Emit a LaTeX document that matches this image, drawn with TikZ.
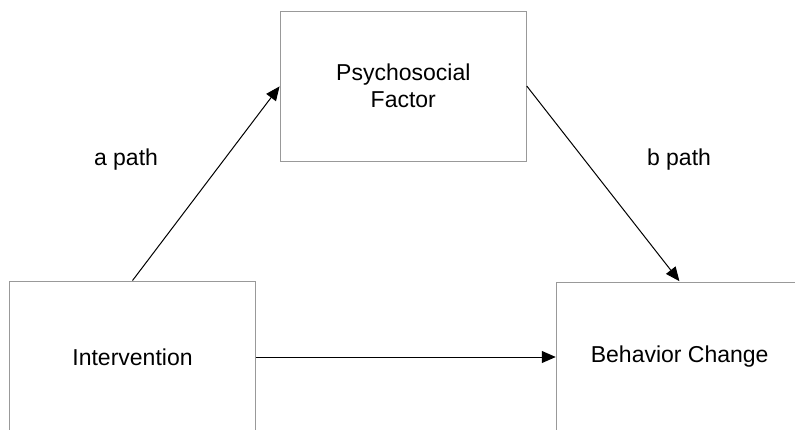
\documentclass[tikz,border=0pt]{standalone}
\usepackage{fontspec}
\setmainfont{Liberation Sans}
\usetikzlibrary{arrows.meta}
\begin{document}
\begin{tikzpicture}[x=1pt,y=-1pt,
  box/.style={draw=black!40,line width=0.9pt,rectangle,inner sep=0pt,align=center,
    font=\fontsize{23}{27}\selectfont},
  lbl/.style={inner sep=0pt,font=\fontsize{23}{27}\selectfont},
  conn/.style={draw=black,line width=1pt,-{Triangle[length=14pt,width=12pt]},shorten >=0.5pt}]
\useasboundingbox (0,0) rectangle (795,429);
\clip (0,0) rectangle (795,429);
\node[box,minimum width=246pt,minimum height=150pt] (psy) at (403.3,86) {Psychosocial\\Factor};
\node[box,minimum width=246pt,minimum height=152pt] (int) at (132.5,357) {Intervention};
\node[box,minimum width=246pt,minimum height=150pt] (beh) at (679.7,357) {Behavior Change};
\node[lbl] (apath) at (126,160) {a path};
\node[lbl] (bpath) at (679,160) {b path};
\draw[conn] (int.north) -- (psy.west);
\draw[conn] (psy.east) -- (beh.north);
\draw[conn] (int.east) -- (beh.west);
\end{tikzpicture}
\end{document}
